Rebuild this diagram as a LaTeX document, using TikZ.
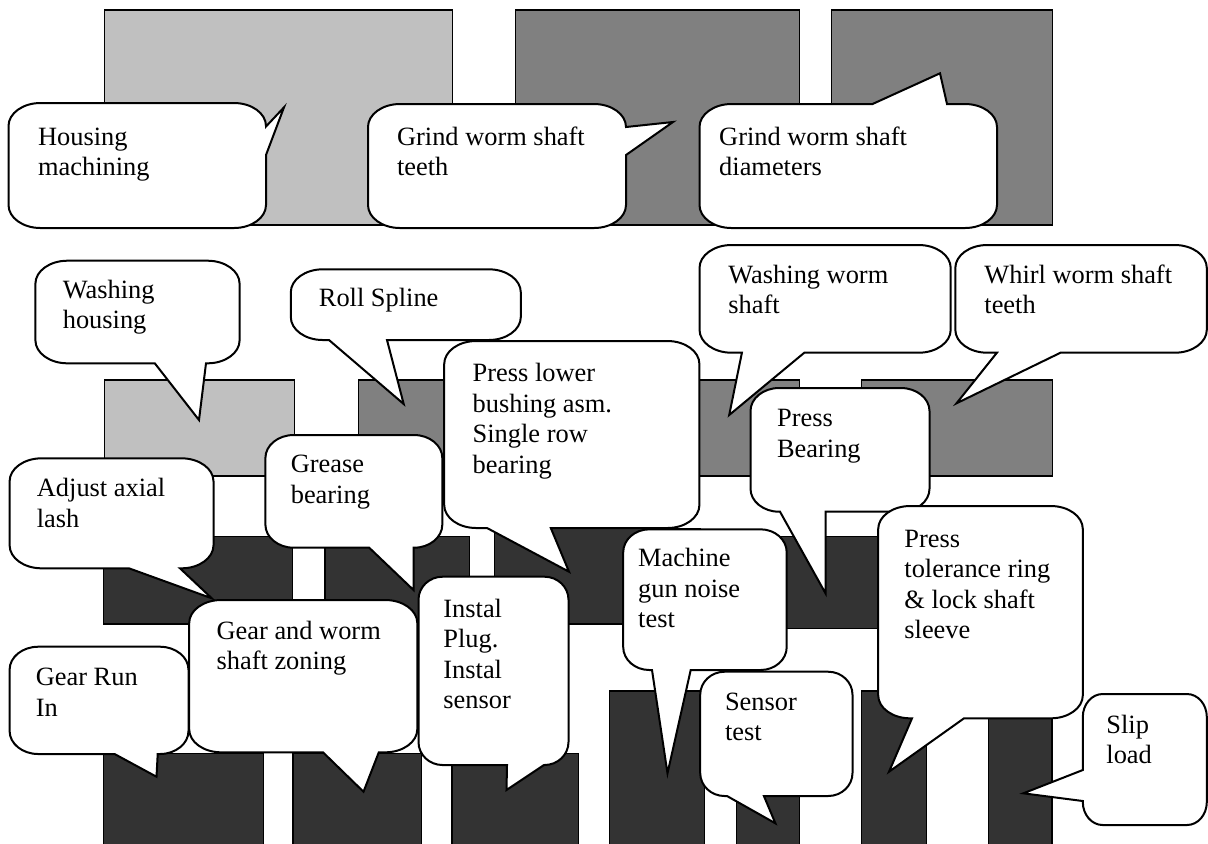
\documentclass[tikz,border=0pt]{standalone}
\usepackage{fontspec}
\setmainfont{Liberation Serif}
\definecolor{lightgr}{HTML}{C0C0C0}
\definecolor{midgr}{HTML}{808080}
\definecolor{darkgr}{HTML}{333333}
\newcommand\cornerset[4]{%
  \pgfmathsetmacro\rx{min(32,0.16*(#3-#1))}%
  \pgfmathsetmacro\ry{23}%
  \pgfmathsetmacro\kx{0.5523*\rx}%
  \pgfmathsetmacro\ky{0.5523*\ry}}
% L T R B, insertions: top (l->r), right (t->b), bottom (r->l), left (b->t)
\newcommand\callout[8]{%
  \cornerset{#1}{#2}{#3}{#4}%
  \draw[bub] (#1+\rx,#2) #5 -- (#3-\rx,#2)
    .. controls (#3-\rx+\kx,#2) and (#3,#2+\ry-\ky) .. (#3,#2+\ry) #6
    -- (#3,#4-\ry)
    .. controls (#3,#4-\ry+\ky) and (#3-\rx+\kx,#4) .. (#3-\rx,#4) #7
    -- (#1+\rx,#4)
    .. controls (#1+\rx-\kx,#4) and (#1,#4-\ry+\ky) .. (#1,#4-\ry) #8
    -- (#1,#2+\ry)
    .. controls (#1,#2+\ry-\ky) and (#1+\rx-\kx,#2) .. (#1+\rx,#2) -- cycle;}
\begin{document}
\begin{tikzpicture}[x=0.5pt,y=-0.5pt,
  bub/.style={fill=white,draw=black,line width=1pt},
  lightbar/.style={fill=lightgr,draw=black,line width=0.6pt},
  midbar/.style={fill=midgr,draw=black,line width=0.6pt},
  darkbar/.style={fill=darkgr,draw=black,line width=0.6pt},
  lbl/.style={anchor=base west,inner sep=0pt,align=left,font=\fontsize{13.2}{15.25}\selectfont}]
\useasboundingbox (0,0) rectangle (1208,843);
% row 1
\draw[lightbar] (104.8,10) rectangle (452.6,225);
\draw[midbar] (515.4,10) rectangle (799.7,225);
\draw[midbar] (831.3,10) rectangle (1052.7,225);
% row 2
\draw[lightbar] (104.8,380) rectangle (294.7,476);
\draw[midbar] (358.2,380) rectangle (799.7,476);
\draw[midbar] (861.7,380) rectangle (1052.7,476);
% row 3
\draw[darkbar] (103.8,536.7) rectangle (292.3,624);
\draw[darkbar] (325,536.7) rectangle (469.2,624);
\draw[darkbar] (494.2,528.3) rectangle (700,624);
\draw[darkbar] (700,536.7) rectangle (878.3,628.5);
% row 4
\draw[darkbar] (103.8,753.3) rectangle (263.5,848);
\draw[darkbar] (293,753.3) rectangle (421.2,848);
\draw[darkbar] (452,753.3) rectangle (578.8,848);
\draw[darkbar] (609.8,691) rectangle (704.8,848);
\draw[darkbar] (736.7,691) rectangle (799.4,848);
\draw[darkbar] (861.7,691) rectangle (926.3,848);
\draw[darkbar] (988.6,691) rectangle (1052,848);
% callouts (text anchors are on the baseline of the last line)
\callout{8.5}{103}{266}{228}{}{-- (266,126.5) -- (284,107.3) -- (266,155)}{}{}
\node[lbl] (tA) at (37.7,175.5) {Housing\\machining};
\callout{368}{104}{626}{228}{}{-- (626,127) -- (673,122) -- (626,155)}{}{}
\node[lbl] (tB) at (396.7,175.5) {Grind worm shaft\\teeth};
\callout{699.5}{104}{997}{228}{-- (872.5,104) -- (940,73.3) -- (947,104)}{}{}{}
\node[lbl] (tC) at (718.8,175.5) {Grind worm shaft\\diameters};
\callout{35.4}{260.7}{239.6}{363.3}{}{}{-- (206,363.3) -- (199,420) -- (154.8,363.3)}{}
\node[lbl] (tD) at (62.4,328.8) {Washing\\housing};
\callout{290.8}{269.3}{520.8}{340}{}{}{-- (387,340) -- (403.7,404) -- (329,340)}{}
\node[lbl] (tE) at (318.5,306) {Roll Spline};
\callout{699.5}{245}{950.7}{352.7}{}{}{-- (804.3,352.7) -- (729.2,415) -- (741.9,352.7)}{}
\node[lbl] (tG) at (728,313.8) {Washing worm\\shaft};
\callout{955.3}{245}{1206.8}{352.7}{}{}{-- (1060.5,352.7) -- (956.5,403.3) -- (996.9,352.7)}{}
\node[lbl] (tH) at (984,313.8) {Whirl worm shaft\\teeth};
\callout{444.2}{341}{699.4}{528}{}{}{-- (550.8,528) -- (569,571.7) -- (487,528)}{}
\node[lbl] (tF) at (472.3,473.2) {Press lower\\bushing asm.\\Single row\\bearing};
\callout{750.5}{388}{929.5}{511.7}{}{}{-- (825.7,511.7) -- (825.5,593.3) -- (780,511.7)}{}
\node[lbl] (tI) at (776.7,457.2) {Press\\Bearing};
\callout{9.6}{458.3}{213.5}{568.3}{}{}{-- (180,568.3) -- (211.8,598.3) -- (129,568.3)}{}
\node[lbl] (tJ) at (36.5,527.2) {Adjust axial\\lash};
\callout{265.4}{435}{442.3}{547.7}{}{}{-- (413.5,547.7) -- (413.5,590) -- (369.2,547.7)}{}
\node[lbl] (tK) at (290.4,503.2) {Grease\\bearing};
\callout{189.2}{600}{417.3}{752.3}{}{}{-- (378.8,752.3) -- (363.5,791.7) -- (323,752.3)}{}
\node[lbl] (tL) at (216.2,669.8) {Gear and worm\\shaft zoning};
\callout{9.6}{646.7}{188.5}{754}{}{}{-- (157.7,754) -- (156.5,776.7) -- (114.6,754)}{}
\node[lbl] (tM) at (35.4,716.2) {Gear Run\\In};
\callout{418.5}{576.7}{568.5}{765}{}{}{-- (544,765) -- (506.5,790) -- (507,765)}{}
\node[lbl] (tN) at (443,708.8) {Instal\\Plug.\\Instal\\sensor};
\callout{623.2}{529.3}{786.7}{670}{}{}{-- (690.7,670) -- (667.5,773.3) -- (652,670)}{}
\node[lbl] (tO) at (637.8,627.7) {Machine\\gun noise\\test};
\callout{700.2}{671.7}{852.5}{796}{}{}{-- (763.9,796) -- (775.4,823.3) -- (727,796)}{}
\node[lbl] (tP) at (724.6,740.5) {Sensor\\test};
\callout{878.2}{506}{1082.8}{718.3}{}{}{-- (964,718.3) -- (889,771.7) -- (912,718.3)}{}
\node[lbl] (tQ) at (904,638.8) {Press\\tolerance ring\\\& lock shaft\\sleeve};
\callout{1082.8}{694}{1206.8}{825}{}{}{}{-- (1082.8,801) -- (1023.3,793.3) -- (1082.8,770)}
\node[lbl] (tR) at (1106,763.8) {Slip\\load};
\end{tikzpicture}
\end{document}
